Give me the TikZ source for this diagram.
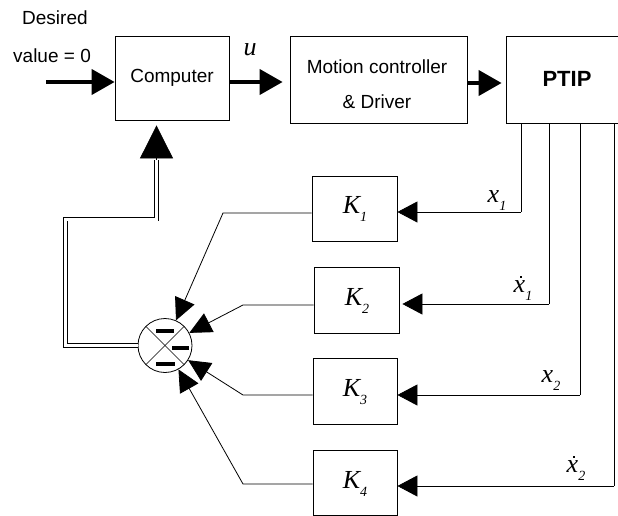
\documentclass[tikz,border=0pt]{standalone}
\usepackage{fontspec}
\setmainfont{Liberation Sans}
\newfontfamily\tms{Liberation Serif}
\usetikzlibrary{arrows.meta,calc}
\newcommand\itsub[2]{{\tms\itshape #1}\raisebox{-8pt}{\fontsize{14}{14}\selectfont\tms\itshape #2}}
\newcommand\dotx{\ooalign{{\tms\itshape x}\cr\hidewidth\kern3pt\raisebox{15pt}{\rule{2.2pt}{2.2pt}}\hidewidth\cr}}
\begin{document}
\begin{tikzpicture}[x=1pt,y=-1pt,
  box/.style={draw, line width=0.8pt, inner sep=0pt},
  lbl/.style={font=\fontsize{19}{23}\selectfont},
  mth/.style={font=\fontsize{26}{28}\selectfont, inner sep=0pt},
  thickarr/.style={line width=4pt, -{Triangle[length=23pt,width=25pt]}},
  fbarr/.style={line width=0.8pt, -{Triangle[length=20pt,width=21pt]}},
  sumarr/.style={line width=0.8pt, -{Triangle[length=22pt,width=21pt]}},
  bigarr/.style={line width=0.8pt, -{Triangle[length=33pt,width=33pt]}},
  thinln/.style={line width=0.8pt},
  dbl/.style={double, double distance=3pt, line width=0.7pt}]
\useasboundingbox (0,0) rectangle (618,516);
\clip (0,0) rectangle (618,516);
% top row
\node[box, lbl, minimum width=114pt, minimum height=84pt] (comp) at (172,78) {\raisebox{-4pt}{Computer}};
\node[box, minimum width=177pt, minimum height=87pt] (mot) at (378.5,79.5) {};
\node[lbl, align=center, inner sep=0pt] (mott) at (377,84) {Motion controller\\[12pt]\& Driver};
\node[box, minimum width=120pt, minimum height=87pt] (ptip) at (566,79.5) {};
\node[font=\bfseries\fontsize{22}{24}\selectfont, inner sep=0pt] (ptiptxt) at (567,79) {PTIP};
\node[lbl, anchor=west, inner sep=0pt] (des) at (22,18) {Desired};
\node[lbl, anchor=west, inner sep=0pt] (val) at (13,56) {value = 0};
\node[mth] (u) at (250,50) {\tms\itshape u};
\coordinate (in) at (46,82);
\draw[thickarr] (in) -- (comp.west |- in);
\draw[thickarr, shorten >=7pt] (comp.east |- 0,82) -- (mot.west |- 0,82);
\draw[thickarr, shorten >=4pt] (mot.east |- 0,83) -- (ptip.west |- 0,83);
% gain blocks
\node[box, minimum width=85pt, minimum height=65pt] (K1) at (354.5,208.5) {};
\node[box, minimum width=85pt, minimum height=66pt] (K2) at (356.5,300) {};
\node[box, minimum width=84pt, minimum height=66pt] (K3) at (355,391) {};
\node[box, minimum width=84pt, minimum height=65pt] (K4) at (355,482.5) {};
\node[mth] (k1t) at (355,209) {\itsub{K}{1}};
\node[mth] (k2t) at (357,301) {\itsub{K}{2}};
\node[mth] (k3t) at (355,392) {\itsub{K}{3}};
\node[mth] (k4t) at (355,484) {\itsub{K}{4}};
% state signals
\coordinate (e1) at (521,212);
\coordinate (e2) at (549,304);
\coordinate (e3) at (580,395);
\coordinate (e4) at (614,486);
\draw[thinln] (ptip.south -| e1) -- (e1);
\draw[thinln] (ptip.south -| e2) -- (e2);
\draw[thinln] (ptip.south -| e3) -- (e3);
\draw[thinln] (ptip.south -| e4) -- (e4);
\draw[fbarr] (e1) -- (K1.east |- e1);
\draw[fbarr, shorten >=3pt] (e2) -- (K2.east |- e2);
\draw[fbarr] (e3) -- (K3.east |- e3);
\draw[fbarr] (e4) -- (K4.east |- e4);
\node[mth] (x1) at (497,201) {\itsub{x}{1}};
\node[mth] (x2) at (523,291) {\itsub{\dotx}{1}};
\node[mth] (x3) at (551,381) {\itsub{x}{2}};
\node[mth] (x4) at (576,471) {\itsub{\dotx}{2}};
% summing junction
\node[draw, circle, line width=0.8pt, minimum size=54pt, inner sep=0pt] (sum) at (165,345.5) {};
\draw[line width=0.6pt] (sum.north west) -- (sum.south east);
\draw[line width=0.6pt] (sum.north east) -- (sum.south west);
\fill ($(sum.center)+(-9,-17)$) rectangle ++(18,4);
\fill ($(sum.center)+(7,0.5)$) rectangle ++(17,4);
\fill ($(sum.center)+(-9,16.5)$) rectangle ++(19,4);
\coordinate (b1) at (223,213);
\coordinate (b2) at (243,305);
\coordinate (b3) at (243,395);
\coordinate (b4) at (243,484);
\draw[sumarr] (K1.west |- b1) -- (b1) -- (sum);
\draw[sumarr] (K2.west |- b2) -- (b2) -- (sum);
\draw[sumarr] (K3.west |- b3) -- (b3) -- (sum);
\draw[sumarr] (K4.west |- b4) -- (b4) -- (sum);
% feedback to computer
\coordinate (d1) at (65.5,219);
\coordinate (d2) at (156.5,219);
\coordinate (d3) at (156.5,160);
\draw[dbl] (sum.west) -| (d1) -- (d2) -- (d3);
\draw[bigarr, shorten >=5pt] (d3) -- (comp.south -| d3);
\end{tikzpicture}
\end{document}
